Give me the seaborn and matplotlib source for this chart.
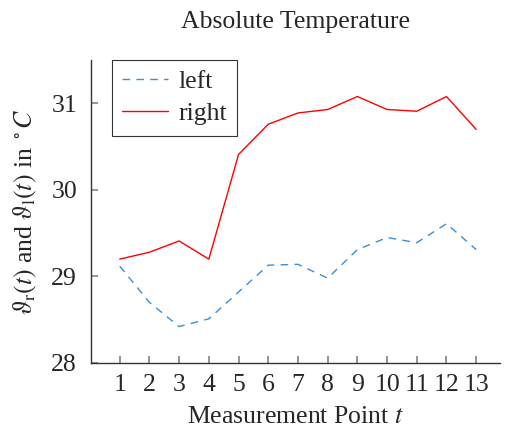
import numpy as np
import pandas as pd
import matplotlib
matplotlib.use("Agg")
import matplotlib.pyplot as plt
import seaborn as sns

points = list(range(1, 14))
left_vals = [29.12, 28.70, 28.42, 28.51, 28.82, 29.13, 29.14, 28.98, 29.31, 29.45, 29.39, 29.61, 29.31]
right_vals = [29.20, 29.28, 29.41, 29.20, 30.41, 30.76, 30.89, 30.93, 31.08, 30.93, 30.91, 31.08, 30.70]
yticks = [28, 29, 30, 31]

sns.set_theme(style="ticks")
plt.rcParams['font.family'] = ['Liberation Serif', 'DejaVu Serif']
plt.rcParams['mathtext.fontset'] = 'stix'

df = pd.DataFrame({"t": points * 2,
                   "val": left_vals + right_vals,
                   "side": ["left"] * 13 + ["right"] * 13})

FS = 18.5
fig = plt.figure(figsize=(5.05, 4.30), dpi=100)
ax = fig.add_axes([0.180, 0.156, 0.810, 0.704])

sns.lineplot(data=df[df.side == "left"], x="t", y="val", ax=ax, color="#3a8fd6",
             linestyle=(0, (5.5, 4.5)), linewidth=1.0, label="left")
sns.lineplot(data=df[df.side == "right"], x="t", y="val", ax=ax, color="#ff0000",
             linewidth=1.0, label="right")

ax.set_xlim(0.03, 13.8)
ax.set_ylim(28, 31.5)
ax.set_xticks(points)
ax.set_yticks(yticks)
ax.tick_params(direction="in", length=5, color="#888888", labelsize=FS)
ax.tick_params(axis="x", pad=8)
ax.tick_params(axis="y", pad=10)
for s in ["top", "right"]:
    ax.spines[s].set_visible(False)
for s in ["left", "bottom"]:
    ax.spines[s].set_color("#333333")
    ax.spines[s].set_linewidth(1.0)

ax.set_xlabel(r"Measurement Point $t$", fontsize=FS, labelpad=7)
ax.set_ylabel(r"$\vartheta_\mathrm{r}(t)$ and $\vartheta_\mathrm{l}(t)$ in $^\circ C$", fontsize=FS, labelpad=9)
ax.set_title("Absolute Temperature", fontsize=FS, pad=23)

leg = ax.legend(loc="upper left", bbox_to_anchor=(0.051, 1.0), fontsize=FS, frameon=True,
                fancybox=False, edgecolor="black", handlelength=1.8, handletextpad=0.4,
                borderpad=0.4, labelspacing=0.35, borderaxespad=0.0)
leg.get_frame().set_linewidth(0.8)

fig.savefig("out.png", dpi=100)
